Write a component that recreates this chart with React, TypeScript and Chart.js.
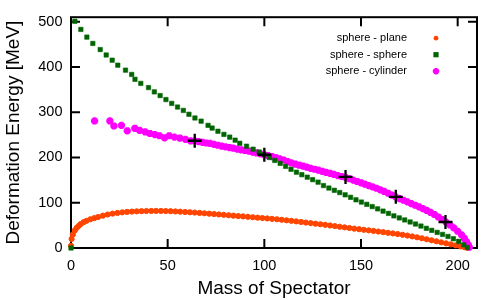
import React, { useEffect, useRef } from "react";
import { Chart, registerables } from "chart.js";

Chart.register(...registerables);

// ---- data ----
const LEGEND_LABELS = ["sphere - plane", "sphere - sphere", "sphere - cylinder"];
const X_TICKS = [0, 50, 100, 150, 200];
const Y_TICKS = [0, 100, 200, 300, 400, 500];
const X_TITLE = "Mass of Spectator";
const Y_TITLE = "Deformation Energy [MeV]";

const PLANE_X = [0, 0.3, 1, 2, 3, 4, 5, 6.5, 8, 10, 12, 14, 16.5, 19, 21.5, 24, 26.5, 29, 31.5, 34, 36.5, 39, 41.5, 44, 46.5, 49, 51.5, 54, 56.5, 59, 61.5, 64, 66.5, 69, 71.5, 74, 76.5, 79, 81.5, 84, 86.5, 89, 91.5, 94, 96.5, 99, 101.5, 104, 106.5, 109, 111.5, 114, 116.5, 119, 121.5, 124, 126.5, 129, 131.5, 134, 136.5, 139, 141.5, 144, 146.5, 149, 151.5, 154, 156.5, 159, 161.5, 164, 166.5, 169, 171.5, 174, 176.5, 179, 181.5, 184, 186.5, 189, 191.5, 194, 196.5, 199, 201.5, 203.5, 205];
const PLANE_Y = [5, 20, 30, 39, 45, 49, 53, 57, 60, 63.5, 66, 68.5, 71.5, 74, 76, 77.5, 78.8, 79.8, 80.5, 81, 81.4, 81.7, 81.9, 82, 81.9, 81.7, 81.3, 80.8, 80.2, 79.6, 79, 78.3, 77.5, 76.7, 75.9, 75, 74.1, 73.3, 72.4, 71.5, 70.6, 69.8, 68.9, 68, 67.1, 66.2, 65.3, 64.4, 63.5, 62.4, 61.2, 60, 58.8, 57.5, 56.2, 55, 53.7, 52.5, 51.2, 49.8, 48.4, 47, 45.6, 44.2, 42.8, 41.5, 40.2, 39, 37.7, 36.4, 35, 33.6, 32.2, 30.8, 29.2, 27.5, 25.6, 23.6, 21.5, 19.3, 17, 14.8, 12.5, 10.3, 8, 5.8, 3.6, 1.8, 0.5];

const SPHERE_X = [0, 2.0, 5.1, 8.2, 11.3, 15.1, 18.2, 21.3, 24.2, 28.2, 31.4, 33.1, 36.1, 40.1, 43.1, 46.1, 49.1, 52.1, 55.1, 58.1, 61.0, 64.1, 67.3, 70.9, 73.0, 76.0, 79.1, 82.1, 84.9, 87.3, 90.8, 94.2, 97.3, 99.8, 102.6, 105.4, 108.2, 111.0, 113.8, 116.6, 119.4, 122.2, 125.0, 127.8, 130.6, 133.4, 136.2, 139.0, 141.8, 144.6, 147.4, 150.2, 153.0, 155.8, 158.6, 161.4, 164.2, 167.0, 169.8, 172.6, 175.4, 178.2, 181.0, 183.8, 186.6, 189.4, 192.2, 195.0, 197.8, 200.6, 203.2, 205];
const SPHERE_Y = [0, 501, 483, 466, 452, 438.5, 426.5, 415, 404, 393, 383.5, 372.8, 363.7, 354.5, 345, 336.8, 328, 319.5, 311.5, 304, 295.5, 287.3, 280.3, 271, 265, 258, 251, 245, 238.3, 231.4, 225, 218.4, 212.2, 206.5, 200, 193.5, 187, 180.5, 174, 167.5, 162, 156.5, 151, 145.5, 138, 132.5, 127.5, 122.5, 117.5, 112, 106.5, 101.5, 96.5, 91.5, 86.5, 81.5, 76.5, 71, 66.5, 62, 57.5, 53, 48.5, 43.5, 39, 34.5, 30, 25.5, 20.5, 14.5, 7, 1];

const CYL_X = [12.2, 20.1, 22.2, 26.1, 29.1, 33, 35.5, 38.4, 40.8, 43.4, 45.8, 48.4, 50.8, 53.5, 56.3, 59.2, 61.9, 64, 66, 68, 70, 72, 74, 76, 78, 80, 82, 84, 86, 88, 90, 92, 94, 96, 98, 100, 102, 104, 106, 108, 110, 112, 114, 116, 118, 120, 122, 124, 126, 128, 130, 132, 134, 136, 138, 140, 142, 144, 146, 148, 150, 152, 154, 156, 158, 160, 162, 164, 166, 168, 170, 172, 174, 176, 178, 180, 182, 184, 186, 188, 190, 192, 194, 196, 198, 200, 202, 203.5, 204.5, 205.5, 206];
const CYL_Y = [280.7, 280.7, 269.6, 271, 259, 264.5, 260, 256.5, 253, 250.5, 248, 243.5, 248, 245, 243, 240, 236.5, 236.5, 235, 233.5, 232, 231, 229, 227, 225, 223.5, 222, 220.5, 218.5, 217, 215.5, 214, 212, 210, 208, 206, 204, 202, 199.5, 197, 194.5, 191, 188, 185.5, 183, 181, 178.5, 176, 174, 172, 169.5, 167, 165, 162.5, 160, 158, 156, 153, 150, 147, 144, 141, 138, 135, 132, 128.5, 125, 121, 117, 113, 109, 105.5, 102, 98, 94.5, 91, 87, 83, 78.5, 74, 68.5, 63, 57, 51, 44.5, 37, 29, 21, 14, 7, 2];

const MARK_X = [64, 100, 142, 168, 193.7];
const MARK_Y = [237, 206, 157, 113, 57.5];

// ---- colours ----
const C_PLANE = "#ff4500";
const C_SPHERE = "#006400";
const C_CYL = "#ff00ff";
const FONT = '"Liberation Sans", Arial, sans-serif';

const pts = (xs: number[], ys: number[]) => xs.map((x, i) => ({ x, y: ys[i] }));

function drawMarker(ctx: CanvasRenderingContext2D, kind: number, x: number, y: number) {
  ctx.save();
  if (kind === 0) {
    ctx.fillStyle = C_PLANE;
    ctx.beginPath();
    ctx.arc(x, y, 2.4, 0, Math.PI * 2);
    ctx.fill();
  } else if (kind === 1) {
    ctx.fillStyle = C_SPHERE;
    ctx.fillRect(x - 2.6, y - 2.6, 5.2, 5.2);
  } else {
    ctx.strokeStyle = C_CYL;
    ctx.lineWidth = 2.2;
    const r = 3.2, d = r * Math.SQRT1_2;
    ctx.beginPath();
    ctx.moveTo(x - r, y); ctx.lineTo(x + r, y);
    ctx.moveTo(x, y - r); ctx.lineTo(x, y + r);
    ctx.moveTo(x - d, y - d); ctx.lineTo(x + d, y + d);
    ctx.moveTo(x - d, y + d); ctx.lineTo(x + d, y - d);
    ctx.stroke();
  }
  ctx.restore();
}

const framePlugin = {
  id: "gpFrame",
  beforeDatasetsDraw(chart: any) {
    const { ctx, chartArea } = chart;
    const { left, right, top, bottom } = chartArea;
    const xs = chart.scales.x, ys = chart.scales.y;
    ctx.save();
    ctx.strokeStyle = "#000";
    ctx.lineWidth = 2;
    ctx.beginPath();
    const tl = 9;
    X_TICKS.forEach((v) => {
      const p = xs.getPixelForValue(v);
      ctx.moveTo(p, bottom); ctx.lineTo(p, bottom - tl);
      ctx.moveTo(p, top); ctx.lineTo(p, top + tl);
    });
    Y_TICKS.forEach((v) => {
      const p = ys.getPixelForValue(v);
      ctx.moveTo(left, p); ctx.lineTo(left + tl, p);
      ctx.moveTo(right, p); ctx.lineTo(right - tl, p);
    });
    ctx.stroke();
    ctx.strokeRect(left, top, right - left, bottom - top);
    ctx.restore();
  },
  afterDatasetsDraw(chart: any) {
    const { ctx, chartArea } = chart;
    ctx.save();
    ctx.font = "11px " + FONT;
    ctx.fillStyle = "#000";
    ctx.textAlign = "right";
    ctx.textBaseline = "middle";
    LEGEND_LABELS.forEach((label, i) => {
      const y = chartArea.top + 21 + i * 16.5;
      ctx.fillText(label, chartArea.right - 70, y);
      drawMarker(ctx, i, chartArea.right - 41, y);
    });
    ctx.restore();
  },
};

export default function App() {
  const ref = useRef<HTMLCanvasElement | null>(null);
  useEffect(() => {
    if (!ref.current) return;
    const chart = new Chart(ref.current, {
      type: "scatter",
      data: {
        datasets: [
          {
            label: "marks",
            data: pts(MARK_X, MARK_Y),
            pointStyle: "cross",
            pointRadius: 7,
            borderWidth: 2.3,
            borderColor: "#000",
            backgroundColor: "#000",
            clip: false,
          } as any,
          {
            label: LEGEND_LABELS[1],
            data: pts(SPHERE_X, SPHERE_Y),
            pointStyle: "rect",
            pointRadius: 3.1,
            borderWidth: 0.6,
            borderColor: C_SPHERE,
            backgroundColor: C_SPHERE,
            clip: false,
          },
          {
            label: LEGEND_LABELS[2],
            data: pts(CYL_X, CYL_Y),
            pointStyle: "star",
            pointRadius: 3.6,
            borderWidth: 2.6,
            borderColor: C_CYL,
            backgroundColor: C_CYL,
            clip: false,
          },
          {
            label: LEGEND_LABELS[0],
            data: pts(PLANE_X, PLANE_Y),
            pointStyle: "circle",
            pointRadius: 2.6,
            borderWidth: 1,
            borderColor: C_PLANE,
            backgroundColor: C_PLANE,
            clip: false,
          },
        ],
      },
      options: {
        animation: false,
        responsive: false,
        events: [],
        layout: { padding: { left: 0, right: 23, top: 17, bottom: 0 } },
        plugins: { legend: { display: false }, tooltip: { enabled: false } },
        scales: {
          x: {
            type: "linear",
            min: 0,
            max: 210,
            grid: { display: false, drawTicks: false },
            border: { display: false },
            afterBuildTicks: (s: any) => { s.ticks = X_TICKS.map((v) => ({ value: v })); },
            ticks: { padding: 9, color: "#000", font: { family: FONT, size: 14.5 } },
            title: { display: true, text: X_TITLE, color: "#000", padding: 0, font: { family: FONT, size: 19 } },
            afterFit: (s: any) => { s.height = 52; },
          },
          y: {
            type: "linear",
            min: 0,
            max: 510,
            grid: { display: false, drawTicks: false },
            border: { display: false },
            afterBuildTicks: (s: any) => { s.ticks = Y_TICKS.map((v) => ({ value: v })); },
            ticks: { padding: 8.5, color: "#000", font: { family: FONT, size: 14.5 } },
            title: { display: true, text: Y_TITLE, color: "#000", padding: { top: 2.5, bottom: 0 }, font: { family: FONT, size: 19 } },
            afterFit: (s: any) => { s.width = 71; },
          },
        },
      },
      plugins: [framePlugin],
    });
    return () => chart.destroy();
  }, []);
  return (
    <div style={{ position: "fixed", left: 0, top: 0, width: 500, height: 300, background: "#fff" }}>
      <canvas ref={ref} width={500} height={300} style={{ width: 500, height: 300 }} />
    </div>
  );
}
